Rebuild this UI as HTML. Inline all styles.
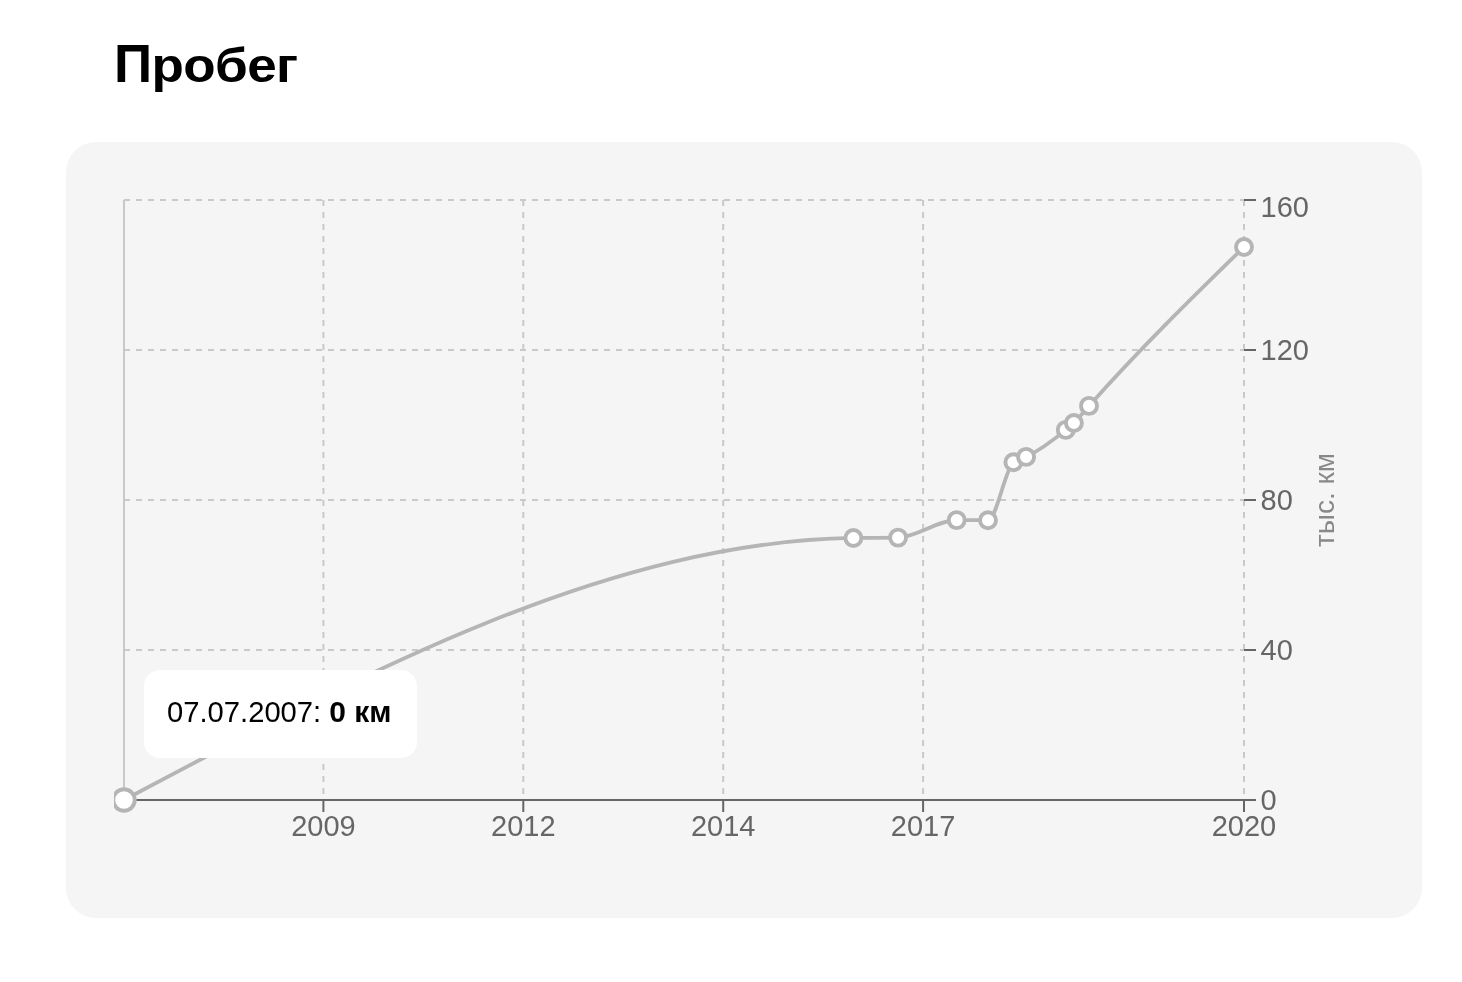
<!DOCTYPE html>
<html><head><meta charset="utf-8">
<style>
html,body{margin:0;padding:0;background:#fff;}
body{width:1462px;height:982px;position:relative;overflow:hidden;filter:grayscale(1);font-family:"Liberation Sans",sans-serif;}
h1{position:absolute;left:114px;top:34px;margin:0;font-size:53px;font-weight:700;color:#000;line-height:60px;letter-spacing:-0.6px;}
h1 .lc{display:inline-block;transform:scaleY(0.91);transform-origin:0 48px;}
.card{position:absolute;left:66px;top:142px;width:1356px;height:776px;border-radius:30px;background:#f5f5f5;}
svg{position:absolute;left:0;top:0;}
.tip{position:absolute;left:144px;top:670px;width:273px;height:88px;border-radius:16px;background:#fff;box-sizing:border-box;padding-left:23px;font-size:29.2px;line-height:83px;color:#000;white-space:nowrap;}
.tip b{font-weight:700;font-size:30px;}
</style></head><body>
<h1>П<span class="lc">робег</span></h1>
<div class="card"></div>
<svg width="1462" height="982" viewBox="0 0 1462 982">
 <g stroke="#c9c9c9" stroke-width="2" stroke-dasharray="6 6" fill="none">
  <line x1="124" y1="200" x2="1244" y2="200"/>
  <line x1="124" y1="350" x2="1244" y2="350"/>
  <line x1="124" y1="500" x2="1244" y2="500"/>
  <line x1="124" y1="650" x2="1244" y2="650"/>
  <line x1="323.4" y1="200" x2="323.4" y2="800"/>
  <line x1="523.3" y1="200" x2="523.3" y2="800"/>
  <line x1="723.2" y1="200" x2="723.2" y2="800"/>
  <line x1="923.1" y1="200" x2="923.1" y2="800"/>
  <line x1="1244" y1="200" x2="1244" y2="800"/>
 </g>
 <line x1="124" y1="200" x2="124" y2="800" stroke="#c8c8c8" stroke-width="2"/>
 <g stroke="#666" stroke-width="2" fill="none">
  <line x1="124" y1="800" x2="1244" y2="800"/>
  <line x1="323.4" y1="800" x2="323.4" y2="812"/>
  <line x1="523.3" y1="800" x2="523.3" y2="812"/>
  <line x1="723.2" y1="800" x2="723.2" y2="812"/>
  <line x1="923.1" y1="800" x2="923.1" y2="812"/>
  <line x1="1244" y1="800" x2="1244" y2="812"/>
  <line x1="1244" y1="200" x2="1256" y2="200"/>
  <line x1="1244" y1="350" x2="1256" y2="350"/>
  <line x1="1244" y1="500" x2="1256" y2="500"/>
  <line x1="1244" y1="650" x2="1256" y2="650"/>
  <line x1="1244" y1="800" x2="1256" y2="800"/>
 </g>
 <g font-family="Liberation Sans" font-size="29" fill="#666" text-anchor="middle">
  <text x="323.4" y="836">2009</text>
  <text x="523.3" y="836">2012</text>
  <text x="723.2" y="836">2014</text>
  <text x="923.1" y="836">2017</text>
  <text x="1244" y="836">2020</text>
 </g>
 <g font-family="Liberation Sans" font-size="29" fill="#666" text-anchor="start">
  <text x="1260.5" y="217">160</text>
  <text x="1260.5" y="360">120</text>
  <text x="1260.5" y="510">80</text>
  <text x="1260.5" y="660">40</text>
  <text x="1260.5" y="810">0</text>
 </g>
 <text transform="translate(1334,500) rotate(-90)" font-family="Liberation Sans" font-size="28" fill="#888" text-anchor="middle">тыс. км</text>
 <clipPath id="cp"><rect x="114" y="150" width="1200" height="700"/></clipPath>
 <g clip-path="url(#cp)">
 <path d="M124.00,800.00C367.13,670.88,610.27,541.76,853.40,537.95C868.30,537.72,883.20,537.83,898.10,537.60C917.63,537.29,937.17,520.10,956.70,520.10C967.13,520.10,977.57,520.20,988.00,520.20C996.47,520.20,1004.93,469.27,1013.40,462.20C1017.63,458.67,1021.87,458.94,1026.10,456.90C1039.33,450.53,1052.57,440.79,1065.80,429.90C1068.50,427.68,1071.20,425.56,1073.90,423.00C1078.93,418.22,1083.97,411.55,1089.00,405.90C1140.67,347.88,1192.33,297.44,1244.00,247.00" fill="none" stroke="#b5b5b5" stroke-width="3.8"/>
 <g fill="#fff" stroke="#b5b5b5" stroke-width="3.9">
  <circle cx="853.4" cy="537.95" r="8"/>
  <circle cx="898.1" cy="537.6" r="8"/>
  <circle cx="956.7" cy="520.1" r="8"/>
  <circle cx="988" cy="520.2" r="8"/>
  <circle cx="1013.4" cy="462.2" r="8"/>
  <circle cx="1026.1" cy="456.9" r="8"/>
  <circle cx="1065.8" cy="429.9" r="8"/>
  <circle cx="1073.9" cy="423" r="8"/>
  <circle cx="1089" cy="405.9" r="8"/>
  <circle cx="1244" cy="247" r="8"/>
  <circle cx="124" cy="800" r="10.75"/>
 </g>
 </g>
</svg>
<div class="tip">07.07.2007: <b>0 км</b></div>
</body></html>
